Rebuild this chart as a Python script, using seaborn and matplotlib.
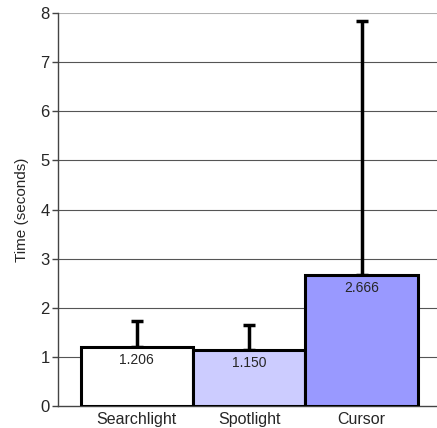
import numpy as np
import pandas as pd
import seaborn as sns
import matplotlib.pyplot as plt

methods = ['Searchlight', 'Spotlight', 'Cursor']
times = [1.206, 1.150, 2.666]
upper = [1.73, 1.65, 7.84]
colors = ['#ffffff', '#ccccff', '#9999ff']

data = pd.DataFrame({'Method': methods, 'Time': times})

sns.set_style('white')
plt.rcParams['font.family'] = ['Liberation Sans', 'DejaVu Sans']

fig = plt.figure(figsize=(4.37, 4.28), dpi=100)
ax = fig.add_axes([0.133, 0.051, 0.867, 0.919])

sns.barplot(data=data, x='Method', y='Time', hue='Method', palette=colors,
            width=1.0, edgecolor='black', linewidth=2.2, errorbar=None,
            saturation=1, legend=False, ax=ax)
for p in ax.patches:
    p.set_zorder(3)

err = np.array(upper) - np.array(times)
ax.errorbar(range(len(methods)), times, yerr=[np.zeros(len(err)), err],
            fmt='none', ecolor='black', elinewidth=2.5, capsize=4, capthick=2.5,
            zorder=2)

for i, v in enumerate(times):
    ax.text(i, v - 0.27, f'{v:.3f}', ha='center', va='center', fontsize=10, zorder=4)

ax.set_ylim(0, 8)
ax.set_xlim(-0.7, 2.67)
ax.set_yticks(range(0, 9))
for y in range(1, 8):
    ax.axhline(y, color='#555555', linewidth=0.8, zorder=1)
ax.axhline(8, color='#b0b0b0', linewidth=1.5, zorder=1)

for s in ['top', 'right']:
    ax.spines[s].set_visible(False)
ax.spines['left'].set_color('#444444')
ax.spines['left'].set_linewidth(1)
ax.spines['bottom'].set_color('#444444')
ax.spines['bottom'].set_linewidth(1)

ax.tick_params(axis='y', left=True, length=4, width=1, color='#444444', labelsize=12, pad=2)
ax.tick_params(axis='x', bottom=False, labelsize=11.5, pad=1)
ax.set_xlabel('')
ax.set_ylabel('Time (seconds)', fontsize=11, labelpad=8)

fig.savefig('out.png', dpi=100)
